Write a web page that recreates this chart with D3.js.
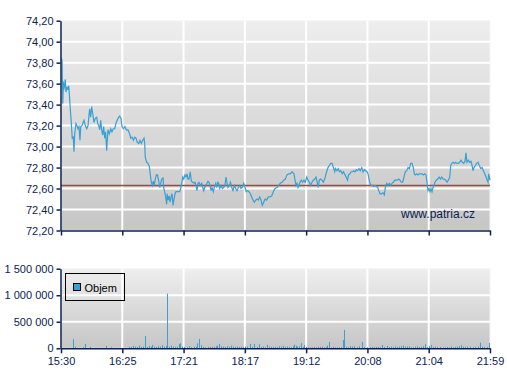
<!DOCTYPE html>
<html>
<head>
<meta charset="utf-8">
<script src="https://cdn.jsdelivr.net/npm/d3@7"></script>
<style>
  html, body { margin: 0; padding: 0; background: #ffffff; }
  svg { display: block; font-family: "Liberation Sans", Arial, sans-serif; }
</style>
</head>
<body>
<div id="chart"></div>
<script>
// ==========================================
// data (minutes after 15:30)
// ==========================================
const sessionLength = 389; // 15:30 -> 21:59
const xTickLabels = ["15:30", "16:25", "17:21", "18:17", "19:12", "20:08", "21:04", "21:59"];
const priceTicks = [72.2, 72.4, 72.6, 72.8, 73.0, 73.2, 73.4, 73.6, 73.8, 74.0, 74.2];
const volumeTicks = [0, 500000, 1000000, 1500000];
const prevClose = 72.63;

const priceTimes = [
  0.6, 1.0, 1.6, 2.1, 2.5, 3.0, 3.9, 4.5, 5.4, 6.3, 7.0, 7.5, 8.4, 9.3, 10.2, 11.1, 11.8, 12.4, 13.6, 14.5, 15.4,
  16.3, 17.2, 17.9, 19.0, 20.0, 20.9, 22.0, 23.3, 24.5, 25.4, 26.0, 26.9, 27.8, 28.7, 29.9, 31.1, 32.4, 33.3, 34.2, 35.1,
  36.0, 36.9, 37.8, 38.7, 39.6, 40.5, 41.4, 42.6, 43.8, 45.1, 46.2, 47.4, 48.7, 50.1, 51.7, 53.2, 54.4, 55.3, 56.5, 58.0,
  59.2, 60.7, 62.3, 63.2, 64.4, 65.6, 66.8, 68.0, 69.2, 70.5, 71.6, 72.8, 74.1, 75.3, 75.9, 76.4, 77.7, 78.9, 80.1, 81.0,
  81.9, 82.8, 83.7, 84.6, 85.5, 86.4, 87.5, 88.6, 89.5, 90.4, 91.3, 92.5, 93.1, 94.0, 94.9, 95.8, 96.3, 97.2, 98.1, 98.9,
  99.8, 100.7, 101.6, 102.5, 103.4, 104.3, 106.4, 107.6, 108.5, 109.5, 110.4, 111.3, 112.4, 113.4, 114.3, 115.2, 116.1, 117.2, 118.2, 119.4,
  120.6, 121.5, 122.4, 123.3, 124.2, 125.1, 126.3, 127.6, 128.5, 129.4, 130.3, 131.2, 132.4, 133.3, 134.2, 135.1, 136.0, 136.9, 138.1, 139.0,
  140.3, 141.2, 142.1, 143.0, 143.9, 145.1, 146.3, 147.5, 148.7, 149.6, 150.5, 151.4, 152.6, 153.7, 154.8, 156.0, 157.2, 158.4, 159.6, 160.8,
  162.1, 163.2, 164.4, 165.7, 166.9, 168.0, 169.3, 170.5, 171.7, 172.9, 174.1, 175.3, 176.6, 177.7, 178.9, 180.2, 181.4, 182.5, 183.8, 185.0,
  186.5, 188.0, 189.5, 191.1, 192.5, 194.1, 195.9, 197.4, 198.9, 200.4, 201.9, 203.4, 204.9, 206.4, 207.9, 209.5, 210.4, 211.3, 212.2, 213.1,
  214.0, 214.9, 215.8, 216.7, 217.9, 219.1, 220.3, 221.5, 222.8, 224.0, 225.2, 226.4, 227.6, 228.8, 230.1, 231.2, 232.4, 233.3, 234.2, 235.5,
  236.7, 237.9, 239.1, 240.3, 241.2, 242.1, 243.3, 244.6, 245.8, 247.0, 248.2, 248.8, 250.1, 251.3, 252.5, 253.7, 255.0, 256.2, 257.5, 258.6,
  259.8, 260.7, 262.0, 263.2, 264.4, 265.4, 266.6, 267.8, 269.0, 270.2, 271.4, 272.7, 273.9, 275.1, 276.3, 277.5, 278.4, 279.3, 280.2, 281.1,
  282.3, 283.6, 284.7, 285.9, 287.2, 288.1, 289.3, 290.5, 292.0, 293.2, 294.1, 295.3, 296.5, 297.7, 299.0, 300.1, 301.3, 302.6, 303.8, 305.0,
  306.2, 307.4, 308.6, 309.8, 311.0, 312.2, 313.5, 314.7, 315.9, 317.1, 318.3, 319.5, 320.4, 321.3, 322.6, 323.7, 324.9, 326.2, 327.4, 328.5,
  329.8, 331.0, 331.9, 332.8, 333.7, 334.6, 335.5, 336.4, 337.3, 338.2, 339.1, 340.3, 341.6, 342.8, 344.0, 345.2, 346.4, 347.6, 348.8, 350.0,
  351.2, 352.5, 353.4, 354.3, 355.5, 356.7, 357.9, 359.1, 360.3, 361.5, 362.7, 363.9, 365.2, 366.3, 367.2, 368.1, 369.3, 370.6, 371.8, 372.7,
  373.6, 374.5, 375.7, 376.9, 378.1, 379.3, 380.6, 381.8, 383.0, 384.2, 385.4, 386.3, 387.2, 387.8, 389.0
];

const priceValues = [
  73.84, 73.80, 73.41, 73.62, 73.54, 73.57, 73.64, 73.52, 73.57, 73.54, 73.58, 73.51, 73.36, 73.23, 73.08, 73.09, 72.95, 73.12, 73.22, 73.20, 73.17,
  73.19, 73.06, 73.19, 73.20, 73.23, 73.25, 73.20, 73.17, 73.20, 73.30, 73.36, 73.28, 73.38, 73.32, 73.23, 73.27, 73.28, 73.22, 73.20, 73.16,
  73.25, 73.16, 73.11, 73.19, 73.08, 73.14, 72.96, 73.16, 73.12, 73.17, 73.14, 73.17, 73.17, 73.23, 73.27, 73.29, 73.27, 73.19, 73.17, 73.19,
  73.16, 73.16, 73.12, 73.08, 73.09, 73.06, 73.09, 73.08, 73.04, 73.03, 73.06, 73.03, 73.06, 73.08, 73.03, 72.90, 72.85, 72.84, 72.81, 72.73,
  72.66, 72.63, 72.67, 72.63, 72.69, 72.73, 72.73, 72.67, 72.61, 72.65, 72.69, 72.70, 72.61, 72.57, 72.52, 72.45, 72.55, 72.49, 72.53, 72.47,
  72.52, 72.55, 72.44, 72.50, 72.55, 72.57, 72.57, 72.57, 72.60, 72.65, 72.71, 72.69, 72.73, 72.71, 72.74, 72.69, 72.69, 72.76, 72.67, 72.66,
  72.65, 72.66, 72.63, 72.58, 72.65, 72.66, 72.63, 72.65, 72.61, 72.58, 72.61, 72.63, 72.65, 72.67, 72.66, 72.63, 72.58, 72.61, 72.57, 72.61,
  72.65, 72.61, 72.66, 72.65, 72.60, 72.63, 72.60, 72.61, 72.63, 72.71, 72.66, 72.61, 72.63, 72.66, 72.61, 72.58, 72.63, 72.60, 72.58, 72.61,
  72.63, 72.60, 72.61, 72.65, 72.61, 72.57, 72.58, 72.57, 72.55, 72.52, 72.49, 72.47, 72.49, 72.50, 72.49, 72.52, 72.49, 72.44, 72.47, 72.50,
  72.49, 72.52, 72.52, 72.53, 72.57, 72.60, 72.61, 72.63, 72.65, 72.66, 72.68, 72.69, 72.73, 72.74, 72.74, 72.76, 72.75, 72.74, 72.68, 72.63,
  72.65, 72.61, 72.63, 72.66, 72.68, 72.66, 72.68, 72.66, 72.71, 72.68, 72.66, 72.63, 72.66, 72.68, 72.69, 72.71, 72.66, 72.61, 72.68, 72.69,
  72.68, 72.66, 72.69, 72.74, 72.77, 72.80, 72.82, 72.84, 72.84, 72.80, 72.76, 72.79, 72.77, 72.79, 72.76, 72.77, 72.74, 72.76, 72.73, 72.71,
  72.68, 72.73, 72.74, 72.76, 72.76, 72.77, 72.76, 72.78, 72.77, 72.79, 72.77, 72.80, 72.76, 72.78, 72.77, 72.76, 72.74, 72.69, 72.65, 72.63,
  72.63, 72.62, 72.63, 72.62, 72.61, 72.58, 72.55, 72.55, 72.56, 72.54, 72.61, 72.65, 72.63, 72.65, 72.63, 72.65, 72.66, 72.68, 72.68, 72.68,
  72.69, 72.68, 72.66, 72.66, 72.71, 72.76, 72.77, 72.80, 72.79, 72.84, 72.84, 72.80, 72.74, 72.73, 72.74, 72.73, 72.74, 72.74, 72.74, 72.73,
  72.74, 72.73, 72.65, 72.58, 72.60, 72.57, 72.60, 72.57, 72.61, 72.63, 72.66, 72.68, 72.69, 72.71, 72.69, 72.71, 72.69, 72.69, 72.68, 72.66,
  72.68, 72.71, 72.82, 72.84, 72.85, 72.84, 72.85, 72.84, 72.84, 72.85, 72.87, 72.85, 72.84, 72.86, 72.94, 72.85, 72.87, 72.85, 72.86, 72.82,
  72.77, 72.80, 72.82, 72.84, 72.85, 72.82, 72.79, 72.80, 72.77, 72.74, 72.71, 72.68, 72.66, 72.74, 72.68
];

const volumeTimes = [
  11.2, 13.0, 20.2, 22.0, 26.3, 40.8, 45.3, 61.4, 63.2, 65.0, 66.8, 68.6, 70.5, 72.3, 74.1, 76.4, 78.3, 79.8, 81.3, 82.8,
  84.3, 86.1, 88.0, 89.8, 91.6, 93.4, 94.9, 96.4, 98.2, 99.5, 101.3, 103.1, 104.9, 106.7, 107.9, 109.7, 111.5, 114.0, 116.3, 118.2,
  120.6, 122.4, 123.6, 124.9, 126.7, 128.5, 130.3, 133.3, 135.1, 136.9, 138.7, 140.6, 141.7, 143.5, 145.4, 147.2, 149.0, 150.8, 152.6, 154.4,
  156.2, 158.1, 159.9, 161.7, 163.5, 165.3, 167.1, 168.9, 171.4, 173.2, 175.0, 177.5, 179.3, 181.1, 183.4, 185.3, 187.1, 188.9, 190.7, 192.5,
  194.3, 196.1, 197.9, 199.2, 201.0, 202.9, 204.7, 206.5, 208.3, 210.1, 211.6, 212.8, 214.0, 215.8, 217.6, 219.2, 220.6, 222.2, 224.0, 225.8,
  227.6, 229.4, 231.2, 233.0, 234.9, 236.7, 238.5, 240.3, 241.5, 243.0, 244.8, 246.7, 248.7, 250.5, 252.4, 254.2, 255.4, 256.9, 258.4, 260.3,
  262.1, 263.9, 265.7, 268.1, 270.5, 272.9, 274.8, 277.7, 280.2, 282.0, 283.8, 285.6, 287.5, 289.3, 291.1, 292.9, 295.3, 297.2, 299.0, 300.8,
  302.6, 304.4, 306.2, 308.0, 309.9, 311.7, 313.5, 315.3, 317.1, 318.9, 320.7, 322.6, 324.9, 326.7, 328.5, 330.4, 332.2, 334.0, 335.8, 337.6,
  339.4, 341.2, 343.7, 346.1, 348.5, 350.3, 352.1, 353.9, 355.7, 357.5, 359.4, 361.2, 362.4, 364.3, 366.6, 368.4, 370.9, 373.3, 375.7, 378.1,
  379.9, 381.8, 383.6, 386.0, 388.4
];

const volumeValues = [
  176000, 25000, 20000, 82000, 25000, 44000, 19000, 25000, 25000, 44000, 31000, 25000, 50000, 25000, 31000, 233000, 25000, 44000, 31000, 63000,
  31000, 25000, 38000, 31000, 57000, 31000, 44000, 1030000, 31000, 50000, 31000, 25000, 31000, 82000, 95000, 31000, 25000, 19000, 38000, 19000,
  31000, 25000, 95000, 176000, 57000, 25000, 19000, 25000, 25000, 25000, 25000, 38000, 50000, 82000, 38000, 31000, 25000, 38000, 31000, 50000,
  31000, 25000, 31000, 25000, 31000, 25000, 31000, 31000, 82000, 25000, 82000, 25000, 76000, 25000, 31000, 19000, 63000, 31000, 25000, 25000,
  25000, 19000, 38000, 31000, 44000, 25000, 31000, 25000, 19000, 38000, 69000, 50000, 31000, 38000, 95000, 25000, 63000, 25000, 19000, 19000,
  19000, 25000, 19000, 31000, 25000, 31000, 19000, 25000, 50000, 120000, 19000, 25000, 19000, 19000, 19000, 19000, 157000, 346000, 25000, 19000,
  38000, 31000, 38000, 19000, 38000, 120000, 25000, 19000, 19000, 25000, 19000, 25000, 25000, 19000, 63000, 25000, 44000, 25000, 31000, 19000,
  31000, 25000, 31000, 38000, 50000, 31000, 31000, 38000, 19000, 19000, 31000, 31000, 25000, 25000, 38000, 76000, 19000, 44000, 63000, 25000,
  31000, 25000, 25000, 19000, 19000, 25000, 19000, 31000, 19000, 25000, 31000, 38000, 57000, 31000, 25000, 31000, 31000, 19000, 25000, 31000,
  107000, 25000, 25000, 25000, 101000
];

// ==========================================
// style
// ==========================================
const COLORS = {
  axis: "#0c2350",
  text: "#0c2350",
  line: "#3a9fd2",
  bar: "#3a9fd2",
  prev: "#b8403a",
  grid: "#ffffff",
  bgTop: "#eeeeee",
  bgBottom: "#c6c6c6"
};

const width = 507, height = 380;
const left = 61, right = 490;
const priceArea = { top: 20.7, bottom: 230.5 };
const volArea = { top: 268.7, bottom: 348.3 };

const svg = d3.select("#chart").append("svg")
  .attr("width", width)
  .attr("height", height);

const defs = svg.append("defs");
const grad = defs.append("linearGradient")
  .attr("id", "bg")
  .attr("x1", 0).attr("y1", 0).attr("x2", 0).attr("y2", 1);
grad.append("stop").attr("offset", "0%").attr("stop-color", COLORS.bgTop);
grad.append("stop").attr("offset", "100%").attr("stop-color", COLORS.bgBottom);

const x = d3.scaleLinear().domain([0, sessionLength]).range([left, right]);
const xTickValues = xTickLabels.map((d, i) => i * sessionLength / (xTickLabels.length - 1));

// plot frame + grid, shared by both panels
function drawPanel(area, y, yTicks, yFormat, showXLabels) {
  const g = svg.append("g");

  g.append("rect")
    .attr("x", left).attr("y", area.top)
    .attr("width", right - left).attr("height", area.bottom - area.top)
    .attr("fill", "url(#bg)")
    .attr("stroke", "#f2f5fa")
    .attr("stroke-width", 1);

  // white grid
  g.selectAll("line.hgrid")
    .data(yTicks.slice(1, -1))
    .enter().append("line")
    .attr("x1", left).attr("x2", right)
    .attr("y1", d => y(d)).attr("y2", d => y(d))
    .attr("stroke", COLORS.grid).attr("stroke-width", 2);

  g.selectAll("line.vgrid")
    .data(xTickValues.slice(1, -1))
    .enter().append("line")
    .attr("x1", d => x(d)).attr("x2", d => x(d))
    .attr("y1", area.top).attr("y2", area.bottom)
    .attr("stroke", COLORS.grid).attr("stroke-width", 2);

  // axes
  const yAxis = d3.axisLeft(y).tickValues(yTicks).tickSize(4).tickSizeOuter(0).tickPadding(3)
    .tickFormat(yFormat);
  const ya = svg.append("g").attr("transform", `translate(${left - 0.5},0)`).call(yAxis);

  const xAxis = d3.axisBottom(x).tickValues(xTickValues).tickSize(5).tickSizeOuter(0).tickPadding(4)
    .tickFormat((d, i) => showXLabels ? xTickLabels[i] : "");
  const xa = svg.append("g").attr("transform", `translate(0,${area.bottom})`).call(xAxis);

  [ya, xa].forEach(a => {
    a.select(".domain").attr("stroke", COLORS.axis).attr("stroke-width", 1.5);
    a.selectAll(".tick line").attr("stroke", COLORS.axis).attr("stroke-width", 1.5);
    a.selectAll("text")
      .attr("fill", COLORS.text)
      .attr("font-size", "11px")
      .attr("font-family", "Liberation Sans, Arial, sans-serif");
  });
  return g;
}

// ==========================================
// price panel
// ==========================================
const yPrice = d3.scaleLinear().domain([72.2, 74.2]).range([priceArea.bottom, priceArea.top]);
const priceG = drawPanel(priceArea, yPrice, priceTicks, d => d3.format(".2f")(d).replace(".", ","), false);

priceG.append("line")
  .attr("x1", left).attr("x2", right)
  .attr("y1", yPrice(prevClose)).attr("y2", yPrice(prevClose))
  .attr("stroke", COLORS.prev).attr("stroke-width", 1.5);

const priceData = priceTimes.map((t, i) => ({ t, v: priceValues[i] }));
priceG.append("path")
  .datum(priceData)
  .attr("fill", "none")
  .attr("stroke", COLORS.line)
  .attr("stroke-width", 1.2)
  .attr("d", d3.line().x(d => x(d.t)).y(d => yPrice(d.v)));

priceG.append("text")
  .attr("x", 438).attr("y", 218)
  .attr("text-anchor", "middle")
  .attr("fill", COLORS.text)
  .attr("font-size", "12px")
  .text("www.patria.cz");

// ==========================================
// volume panel
// ==========================================
const yVol = d3.scaleLinear().domain([0, 1500000]).range([volArea.bottom, volArea.top]);
const volFormat = d => d3.format(",")(d).replace(/,/g, " ");
const volG = drawPanel(volArea, yVol, volumeTicks, volFormat, true);

const volData = volumeTimes.map((t, i) => ({ t, v: volumeValues[i] }));
volG.selectAll("rect.bar")
  .data(volData)
  .enter().append("rect")
  .attr("class", "bar")
  .attr("x", d => Math.round(x(d.t)))
  .attr("width", 1)
  .attr("y", d => yVol(d.v))
  .attr("height", d => volArea.bottom - yVol(d.v))
  .attr("fill", COLORS.bar);

// legend
const legend = svg.append("g").attr("transform", "translate(65.5,273.5)");
legend.append("rect")
  .attr("width", 59).attr("height", 27)
  .attr("fill", "none")
  .attr("stroke", "#000000");
legend.append("rect")
  .attr("x", 8).attr("y", 10)
  .attr("width", 7).attr("height", 7)
  .attr("fill", COLORS.bar)
  .attr("stroke", "#000000");
legend.append("text")
  .attr("x", 19).attr("y", 18)
  .attr("fill", "#000000")
  .attr("font-size", "11px")
  .text("Objem");
</script>
</body>
</html>
